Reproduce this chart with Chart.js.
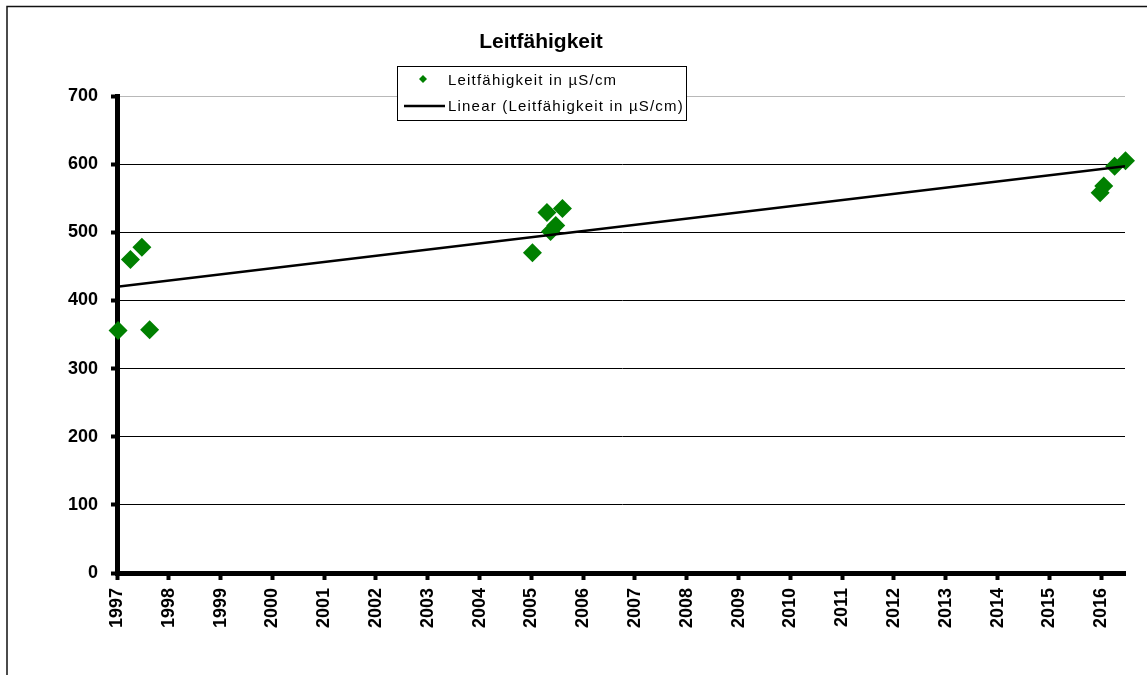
<!DOCTYPE html>
<html>
<head>
<meta charset="utf-8">
<script src="https://cdn.jsdelivr.net/npm/chart.js@4.4.0/dist/chart.umd.min.js"></script>
<style>
  body { margin: 0; background: #fff; }
  #wrap { width: 1147px; height: 675px; }
</style>
</head>
<body>
<div id="wrap"><canvas id="myChart" width="1147" height="675"></canvas></div>
<script>
// measured values (decimal year, µS/cm)
var years  = [1997.02, 1997.26, 1997.48, 1997.63, 2005.02, 2005.30, 2005.37, 2005.47, 2005.60, 2015.98, 2016.05, 2016.26, 2016.47];
var values = [356, 460, 478, 357, 470, 529, 501, 510, 535, 558, 568, 597, 605];

// trend line end points
var trendX = [1997.0, 2016.46];
var trendY = [420, 597];

var yTicks = [0, 100, 200, 300, 400, 500, 600, 700];
var chartTitle = 'Leitfähigkeit';
var seriesName = 'Leitfähigkeit in µS/cm';
var trendName = 'Linear (Leitfähigkeit in µS/cm)';

var green = '#008000';

var points = years.map(function (y, i) { return { x: y, y: values[i] }; });
var trend = trendX.map(function (x, i) { return { x: x, y: trendY[i] }; });

var extras = {
    id: 'extras',
    beforeDraw: function (chart) {
        var c = chart.ctx;
        c.save();
        c.fillStyle = '#fff';
        c.fillRect(0, 0, chart.width, chart.height);
        c.strokeStyle = '#111';
        c.lineWidth = 1.5;
        c.strokeRect(7, 6.5, 1300, 900);
        c.restore();
    },
    afterDraw: function (chart) {
        var c = chart.ctx;
        c.save();
        // title
        c.fillStyle = '#000';
        c.font = 'bold 21px Arial, "Liberation Sans", sans-serif';
        c.textAlign = 'center';
        c.textBaseline = 'alphabetic';
        c.fillText(chartTitle, 541, 48);

        // legend box
        c.fillStyle = '#fff';
        c.fillRect(397, 66, 289, 54);
        c.strokeStyle = '#000';
        c.lineWidth = 1;
        c.strokeRect(397.5, 66.5, 289, 54);

        c.fillStyle = green;
        c.beginPath();
        c.moveTo(423, 75); c.lineTo(427, 79); c.lineTo(423, 83); c.lineTo(419, 79);
        c.closePath();
        c.fill();

        c.strokeStyle = '#000';
        c.lineWidth = 2.5;
        c.beginPath();
        c.moveTo(404, 106); c.lineTo(445, 106);
        c.stroke();

        c.fillStyle = '#000';
        c.font = '15px Arial, "Liberation Sans", sans-serif';
        c.textAlign = 'left';
        c.letterSpacing = '1.2px';
        c.fillText(seriesName, 448, 85);
        c.fillText(trendName, 448, 111);
        c.restore();
    }
};

var ctx = document.getElementById('myChart').getContext('2d');
var chart = new Chart(ctx, {
    type: 'scatter',
    data: {
        datasets: [{
            label: seriesName,
            data: points,
            backgroundColor: green,
            borderColor: green,
            pointStyle: 'rectRot',
            pointRadius: 9.5,
            pointBorderWidth: 0,
            clip: false,
            order: 2
        }, {
            label: trendName,
            data: trend,
            showLine: true,
            borderColor: '#000',
            borderWidth: 2.5,
            pointRadius: 0,
            fill: false,
            order: 1
        }]
    },
    options: {
        responsive: false,
        animation: false,
        layout: { padding: { top: 96, right: 22, left: 0, bottom: 0 } },
        plugins: {
            legend: { display: false },
            title: { display: false },
            tooltip: { enabled: false }
        },
        scales: {
            x: {
                type: 'linear',
                min: 1997,
                max: 2016.46,
                afterBuildTicks: function (s) {
                    s.ticks = [];
                    for (var y = 1997; y <= 2016; y++) s.ticks.push({ value: y });
                },
                afterFit: function (s) { s.height = 102; },
                grid: { drawOnChartArea: false, drawTicks: true, tickLength: 7, tickWidth: 4, tickColor: '#000' },
                border: { display: true, color: '#000', width: 5 },
                ticks: {
                    minRotation: 90,
                    maxRotation: 90,
                    autoSkip: false,
                    padding: 8,
                    color: '#000',
                    font: { family: 'Arial, "Liberation Sans", sans-serif', size: 18, weight: 'bold' },
                    callback: function (v) { return String(v); }
                }
            },
            y: {
                min: 0,
                max: 700,
                afterBuildTicks: function (s) {
                    s.ticks = yTicks.map(function (v) { return { value: v }; });
                },
                afterFit: function (s) { s.width = 117; },
                grid: {
                    color: function (c) { return c.tick && c.tick.value === 700 ? '#b8b8b8' : '#000'; },
                    lineWidth: 1,
                    drawTicks: true,
                    tickLength: 6,
                    tickWidth: 4,
                    tickColor: '#000'
                },
                border: { display: true, color: '#000', width: 5 },
                ticks: {
                    padding: 13,
                    color: '#000',
                    font: { family: 'Arial, "Liberation Sans", sans-serif', size: 18, weight: 'bold' }
                }
            }
        }
    },
    plugins: [extras]
});
</script>
</body>
</html>
